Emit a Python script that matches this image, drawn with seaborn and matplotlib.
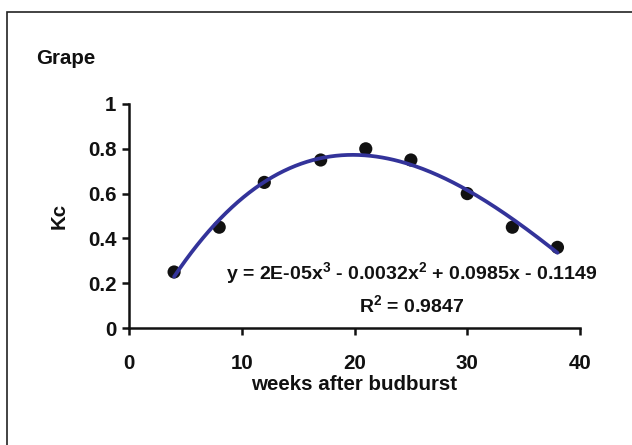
import numpy as np
import pandas as pd
import matplotlib
matplotlib.use("Agg")
import matplotlib.pyplot as plt
from matplotlib.patches import Rectangle
import seaborn as sns

# Crop coefficient of grape vines over the season
weeks = [4, 8, 12, 17, 21, 25, 30, 34, 38]
kc = [0.25, 0.45, 0.65, 0.75, 0.80, 0.75, 0.60, 0.45, 0.36]

x_ticks = [0, 10, 20, 30, 40]
y_ticks = [0, 0.2, 0.4, 0.6, 0.8, 1]

title_text = "Grape"
x_label = "weeks after budburst"
y_label = "Kc"
equation_text = r"y = 2E-05x$^3$ - 0.0032x$^2$ + 0.0985x - 0.1149"
r2_text = r"R$^2$ = 0.9847"

sns.set_style("ticks")
plt.rcParams["font.family"] = ["Liberation Sans", "DejaVu Sans"]
plt.rcParams["font.weight"] = "bold"
plt.rcParams["mathtext.default"] = "regular"

FS = 14.8
INK = "#111111"

df = pd.DataFrame({"weeks": weeks, "kc": kc})

# third-order polynomial trend line through the observations
coef = np.polyfit(df["weeks"], df["kc"], 3)
xs = np.linspace(min(weeks), max(weeks), 200)
trend = pd.DataFrame({"weeks": xs, "kc": np.polyval(coef, xs)})

fig = plt.figure(figsize=(6.32, 4.45), dpi=100)
fig.patch.set_facecolor("white")
ax = fig.add_axes([129 / 632, 1 - 328 / 445, 451 / 632, 224 / 445])

sns.scatterplot(data=df, x="weeks", y="kc", ax=ax, color=INK,
                s=90, edgecolor="none", zorder=2)
sns.lineplot(data=trend, x="weeks", y="kc", ax=ax, color="#33339A",
             linewidth=2.7, zorder=3)

ax.set_xlim(0, 40)
ax.set_ylim(0, 1)
ax.set_xticks(x_ticks)
ax.set_yticks(y_ticks)
ax.set_xticklabels([f"{t:g}" for t in x_ticks])
ax.set_yticklabels([f"{t:g}" for t in y_ticks])
ax.tick_params(axis="both", direction="out", length=5, width=1.8,
               colors=INK, labelsize=FS, pad=4)
ax.tick_params(axis="x", pad=14)
for lbl in ax.get_xticklabels() + ax.get_yticklabels():
    lbl.set_fontweight("bold")
for side in ("top", "right"):
    ax.spines[side].set_visible(False)
for side in ("left", "bottom"):
    ax.spines[side].set_linewidth(1.8)
    ax.spines[side].set_color(INK)
ax.set_facecolor("white")

ax.set_xlabel(x_label, fontsize=FS, fontweight="bold", color=INK,
              labelpad=1)
ax.set_ylabel(y_label, fontsize=FS, fontweight="bold", color=INK,
              labelpad=14)

fig.text(36 / 632, 1 - 58 / 445, title_text, fontsize=FS, fontweight="bold",
         ha="left", va="center", color=INK)
fig.text(412 / 632, 1 - 273 / 445, equation_text, fontsize=14,
         fontweight="bold", ha="center", va="center", color=INK)
fig.text(412 / 632, 1 - 305 / 445, r2_text, fontsize=14,
         fontweight="bold", ha="center", va="center", color=INK)

# outer chart-area frame
fig.patches.append(Rectangle((7 / 632, -0.05), 1.2, 1 - 12 / 445 + 0.05,
                             transform=fig.transFigure, fill=False,
                             edgecolor="#222222", linewidth=1.2))

fig.savefig("out.png", dpi=100, facecolor="white")
